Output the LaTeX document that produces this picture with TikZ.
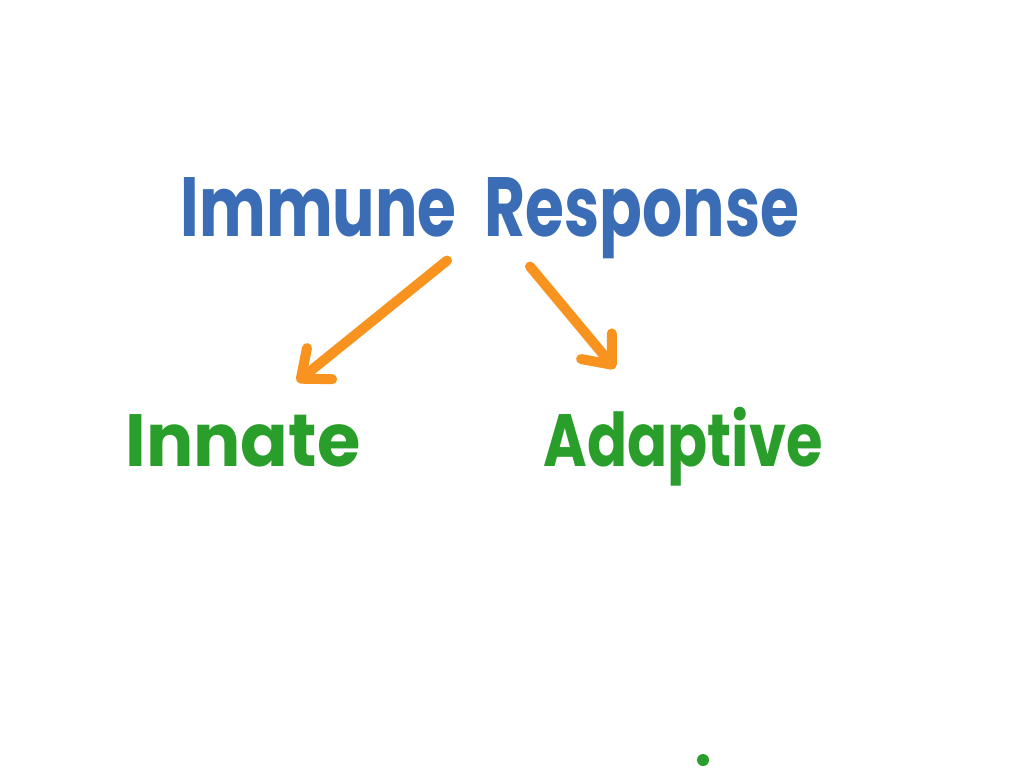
\documentclass[tikz,border=0pt]{standalone}
\usepackage{fontspec}
\setmainfont{Poppins}
\newfontfamily\handfont[FakeStretch=0.75]{Poppins}
\newfontfamily\leaffont[FakeStretch=0.8]{Poppins}
\newfontfamily\wideleaf[FakeStretch=0.95]{Poppins}
\usetikzlibrary{arrows.meta,positioning}
\definecolor{ink}{HTML}{3A6DB5}
\definecolor{flame}{HTML}{F7931E}
\definecolor{leaf}{HTML}{2A9E2A}
\tikzset{
  title/.style={font=\handfont\bfseries\fontsize{84}{84}\selectfont,text=ink,inner sep=0pt,anchor=base},
  branch/.style={font=\leaffont\bfseries\fontsize{74}{74}\selectfont,text=leaf,inner sep=0pt,anchor=base},
  ar/.style={-{Straight Barb[length=24pt,width=40pt,line cap=round,line join=round]},draw=flame,line width=10pt,line cap=round},
}
\begin{document}
\begin{tikzpicture}[x=1pt,y=1pt]
  \useasboundingbox (0,0) rectangle (1024,-768);
  \node[title] (immune) at (490,-236) {Immune\hspace{28pt}Response};
  \node[branch,font=\wideleaf\bfseries\fontsize{74}{74}\selectfont] (innate) at (243,-466) {Innate};
  \node[branch] (adaptive) at (683,-466) {Adaptive};
  % arrows from the title down to both branches
  \draw[ar] ([xshift=-43pt,yshift=-2pt]immune.south) -- ([xshift=54pt,yshift=32pt]innate.north);
  \draw[ar] ([xshift=40pt,yshift=-8pt]immune.south) -- ([xshift=-68pt,yshift=38pt]adaptive.north);
  \node[circle,fill=leaf,minimum size=12pt,inner sep=0pt] (dot) at (703,-760) {};
\end{tikzpicture}
\end{document}
